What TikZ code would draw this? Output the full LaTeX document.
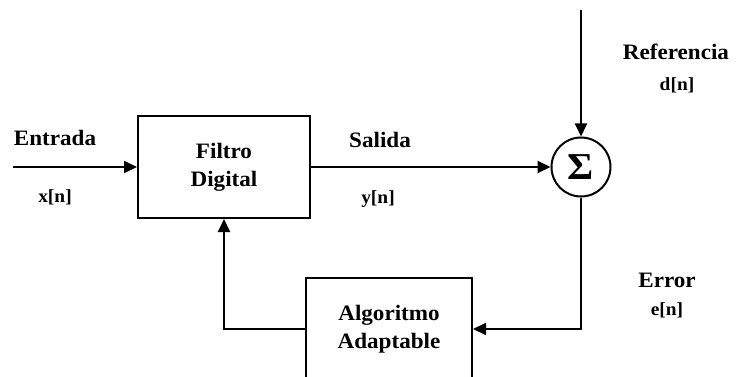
\documentclass[tikz,border=0pt]{standalone}
\usepackage{fontspec}
\setmainfont{Liberation Serif}
\newfontfamily\labfont{Liberation Serif Bold}[FakeStretch=1.05]
\usetikzlibrary{arrows.meta,calc}
\begin{document}
\begin{tikzpicture}[x=1pt,y=-1pt,
  line width=2pt,
  >={Triangle[length=13pt,width=12pt]},
  blockbox/.style={draw,line width=2pt,minimum width=172pt,minimum height=102pt,inner sep=0pt,align=center,
    font=\labfont\fontsize{22}{28}\selectfont},
  biglab/.style={font=\labfont\fontsize{22}{24}\selectfont,inner sep=0pt},
  smalllab/.style={font=\labfont\fontsize{18.5}{20}\selectfont,inner sep=0pt},
  sumnode/.style={draw,circle,line width=2pt,minimum size=59pt,inner sep=0pt,font=\labfont\fontsize{38}{40}\selectfont}
]
\useasboundingbox (0,0) rectangle (736,377);
\clip (0,0) rectangle (736,377);
% blocks
\node[blockbox] (filt) at (224,167) {Filtro\\Digital};
\node[blockbox,minimum width=166pt] (alg) at (389,329) {Algoritmo\\Adaptable};
\node[sumnode] (sum) at (581,167) {Σ};
% free ends
\coordinate (xin) at (13,167);
\coordinate (dtop) at (581,10);
% connectors
\draw[->] (xin) -- (filt.west);
\draw[->] (filt.east) -- (sum.west);
\draw[->] (dtop) -- (sum.north);
\draw[->] (sum.south) |- (alg.east);
\draw[->] (alg.west) -| (filt.south);
% labels
\node[biglab] (lentrada) at (55,138) {Entrada};
\node[smalllab] (lxn) at (55,197) {x[n]};
\node[biglab] (lsalida) at (380,140) {Salida};
\node[smalllab] (lyn) at (378,199) {y[n]};
\node[biglab] (lref) at (676,52) {Referencia};
\node[smalllab] (ldn) at (677,85) {d[n]};
\node[biglab] (lerror) at (667,280) {Error};
\node[smalllab] (len) at (667,310) {e[n]};
\end{tikzpicture}
\end{document}
